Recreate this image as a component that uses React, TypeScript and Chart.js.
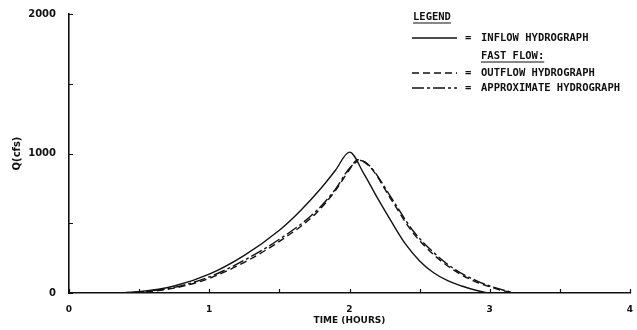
import React, { useEffect, useRef } from "react";
import { Chart, registerables } from "chart.js";

Chart.register(...registerables);

// Inflow hydrograph (hours, cfs)
const inflowHours = [0, 0.25, 0.5, 0.75, 1.0, 1.25, 1.5, 1.65, 1.8, 1.9, 2.0, 2.1, 2.2, 2.3, 2.4, 2.5, 2.6, 2.7, 2.8, 2.9, 3.0, 3.5, 4.0];
const inflowCfs = [0, 0, 10, 50, 135, 270, 450, 590, 755, 880, 1010, 860, 680, 510, 350, 230, 145, 88, 50, 20, 0, 0, 0];

// Fast flow: outflow hydrograph
const outflowHours = [0, 0.25, 0.5, 0.75, 1.0, 1.25, 1.5, 1.75, 1.9, 2.0, 2.06, 2.15, 2.3, 2.45, 2.6, 2.75, 2.9, 3.0, 3.1, 3.2, 3.5, 4.0];
const outflowCfs = [0, 0, 5, 35, 105, 220, 370, 560, 735, 885, 955, 900, 665, 435, 275, 160, 80, 45, 15, 0, 0, 0];

// Fast flow: approximate hydrograph
const approxHours = [0, 0.25, 0.5, 0.75, 1.0, 1.25, 1.5, 1.75, 1.9, 2.0, 2.08, 2.15, 2.3, 2.45, 2.6, 2.75, 2.9, 3.0, 3.1, 3.2, 3.5, 4.0];
const approxCfs = [0, 0, 8, 40, 115, 235, 385, 575, 745, 895, 950, 905, 680, 450, 290, 170, 90, 50, 20, 0, 0, 0];

const xLabelHours = [0, 1, 2, 3, 4];
const yLabelCfs = [0, 1000, 2000];

const legendTitle = "LEGEND";
const legendSubTitle = "FAST FLOW:";
const seriesNames = ["INFLOW HYDROGRAPH", "OUTFLOW HYDROGRAPH", "APPROXIMATE HYDROGRAPH"];

const INK = "#111";
const yTickFont = { family: "'DejaVu Sans'", size: 10, weight: "bold" as const };
const xTickFont = { family: "'DejaVu Sans'", size: 9, weight: "bold" as const };
const titleFont = { family: "'DejaVu Sans'", size: 9, weight: "bold" as const };

const pairs = (xs: number[], ys: number[]) => xs.map((x, i) => ({ x, y: ys[i] }));

// small tick marks pointing into the plot area
const inwardTicks = {
  id: "inwardTicks",
  afterDatasetsDraw(chart: any) {
    const { ctx, chartArea, scales } = chart;
    const { x, y } = scales;
    ctx.save();
    ctx.strokeStyle = INK;
    ctx.lineWidth = 1.2;
    ctx.beginPath();
    x.ticks.forEach((t: any) => {
      const px = Math.round(x.getPixelForValue(t.value)) + 0.5;
      ctx.moveTo(px, chartArea.bottom);
      ctx.lineTo(px, chartArea.bottom - 4);
    });
    y.ticks.forEach((t: any) => {
      const py = Math.round(y.getPixelForValue(t.value)) + 0.5;
      ctx.moveTo(chartArea.left, py);
      ctx.lineTo(chartArea.left + 4, py);
    });
    ctx.stroke();
    ctx.restore();
  },
};

// key box in the upper right corner
const hydroLegend = {
  id: "hydroLegend",
  afterDraw(chart: any) {
    const ctx = chart.ctx as CanvasRenderingContext2D;
    const datasets = chart.data.datasets;
    ctx.save();
    ctx.fillStyle = INK;
    ctx.strokeStyle = INK;
    ctx.font = "bold 10.5px 'DejaVu Sans Mono'";
    ctx.textBaseline = "middle";
    ctx.textAlign = "left";

    const underline = (text: string, x: number, y: number) => {
      ctx.fillText(text, x, y);
      const w = ctx.measureText(text).width;
      ctx.beginPath();
      ctx.lineWidth = 1.2;
      ctx.setLineDash([]);
      ctx.moveTo(x, y + 6);
      ctx.lineTo(x + w, y + 6);
      ctx.stroke();
    };

    underline(legendTitle, 413, 17);
    underline(legendSubTitle, 481, 56);

    const rowsY = [38, 73, 88];
    seriesNames.forEach((name, i) => {
      const y = rowsY[i];
      ctx.beginPath();
      ctx.lineWidth = 1.4;
      ctx.setLineDash(datasets[i].borderDash || []);
      ctx.moveTo(412, y);
      ctx.lineTo(457, y);
      ctx.stroke();
      ctx.setLineDash([]);
      ctx.fillText("=", 465, y);
      ctx.fillText(name, 481, y);
    });
    ctx.restore();
  },
};

export default function App() {
  const canvasRef = useRef<HTMLCanvasElement | null>(null);

  useEffect(() => {
    const canvas = canvasRef.current;
    if (!canvas) return;
    const lineStyle = {
      borderColor: INK,
      borderWidth: 1.4,
      pointRadius: 0,
      fill: false,
      cubicInterpolationMode: "monotone" as const,
    };
    const chart = new Chart(canvas, {
      type: "line",
      data: {
        datasets: [
          { ...lineStyle, label: seriesNames[0], data: pairs(inflowHours, inflowCfs), borderDash: [] },
          { ...lineStyle, label: seriesNames[1], data: pairs(outflowHours, outflowCfs), borderDash: [7, 4] },
          { ...lineStyle, label: seriesNames[2], data: pairs(approxHours, approxCfs), borderDash: [12, 3, 3, 3] },
        ],
      },
      options: {
        animation: false,
        responsive: false,
        maintainAspectRatio: false,
        layout: { padding: { top: 14, right: 7, left: 0, bottom: 0 } },
        plugins: { legend: { display: false }, tooltip: { enabled: false } },
        scales: {
          x: {
            type: "linear",
            min: 0,
            max: 4,
            grid: { display: false },
            border: { display: true, color: INK, width: 1.6 },
            ticks: {
              stepSize: 0.5,
              autoSkip: false,
              maxRotation: 0,
              padding: 3,
              color: INK,
              font: xTickFont,
              callback: (v: any) => (xLabelHours.includes(Number(v)) ? String(v) : ""),
            },
            title: { display: true, text: "TIME (HOURS)", color: INK, font: titleFont, padding: { top: 0, bottom: 4 } },
            afterFit: (s: any) => {
              s.height = 37;
            },
          },
          y: {
            type: "linear",
            min: 0,
            max: 2000,
            grid: { display: false },
            border: { display: true, color: INK, width: 1.6 },
            ticks: {
              stepSize: 500,
              padding: 5,
              color: INK,
              font: yTickFont,
              callback: (v: any) => (yLabelCfs.includes(Number(v)) ? String(v) : ""),
            },
            title: { display: true, text: "Q(cfs)", color: INK, font: { ...titleFont, size: 10 }, padding: { top: 11, bottom: 0 } },
            afterFit: (s: any) => {
              s.width = 69;
            },
          },
        },
      },
      plugins: [inwardTicks, hydroLegend],
    });
    return () => chart.destroy();
  }, []);

  return (
    <div style={{ position: "fixed", left: 0, top: 0, width: 637, height: 330, background: "#fff" }}>
      <canvas ref={canvasRef} width={637} height={330} style={{ display: "block" }} />
    </div>
  );
}
